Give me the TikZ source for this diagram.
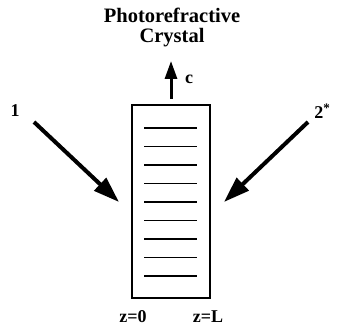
\documentclass[tikz,border=0pt]{standalone}
\usepackage{fontspec}
\setmainfont{Liberation Serif}
\usetikzlibrary{arrows.meta}
\begin{document}
\begin{tikzpicture}[x=1pt,y=-1pt,
  lbl/.style={font=\fontsize{18}{20}\selectfont\bfseries, inner sep=0pt},
  beam/.style={line width=4pt, -{Triangle[length=26pt,width=17pt]}},
  grat/.style={line width=1.6pt},
  box/.style={draw, line width=1.5pt, minimum width=78pt, minimum height=193pt, inner sep=0pt}]
\useasboundingbox (0,0) rectangle (340,328);
\node[box] (crys) at (171,201.5) {};
\foreach \y [count=\i] in {128,146.5,165,183.5,202,220.5,239,257.5,276} {
  \coordinate (gl\i) at (144,\y);
  \coordinate (gr\i) at (197,\y);
  \draw[grat] (gl\i) -- (gr\i);
}
\node[lbl, align=center, font=\fontsize{20.5}{20}\selectfont\bfseries] (title) at (172,27) {Photorefractive\\Crystal};
\coordinate (cbase) at (171,99);
\coordinate (ctip) at (171,61);
\draw[line width=3pt, -{Triangle[length=18pt,width=12pt]}] (cbase) -- (ctip);
\node[lbl] (c) at (189,79) {c};
\coordinate (s1) at (34,122);
\coordinate (t1) at (119,202);
\draw[beam] (s1) -- (t1);
\node[lbl] (n1) at (15,111) {1};
\coordinate (s2) at (308,122);
\coordinate (t2) at (224,202);
\draw[beam] (s2) -- (t2);
\node[lbl] (n2) at (322,111) {2\raisebox{6pt}{\fontsize{13}{13}\selectfont *}};
\node[lbl] (z0) at (133,317) {z=0};
\node[lbl] (zL) at (208,317) {z=L};
\end{tikzpicture}
\end{document}
